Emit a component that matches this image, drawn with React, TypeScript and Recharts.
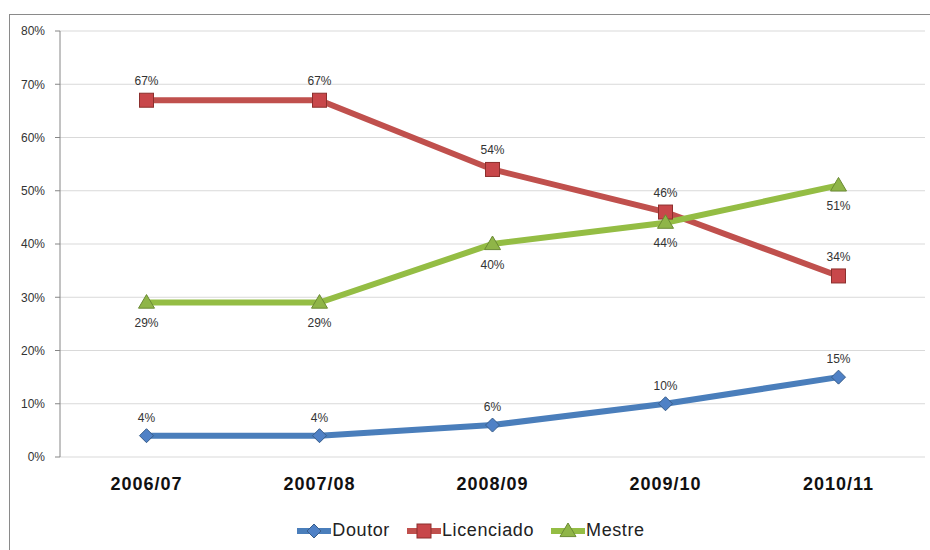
import React from 'react';
import { LineChart, Line, XAxis, YAxis, CartesianGrid, Legend, LabelList } from 'recharts';

const categories = ['2006/07', '2007/08', '2008/09', '2009/10', '2010/11'];
const doutor = [4, 4, 6, 10, 15];
const licenciado = [67, 67, 54, 46, 34];
const mestre = [29, 29, 40, 44, 51];
const yTicks = [0, 10, 20, 30, 40, 50, 60, 70, 80];
const bandTicks = [0, 1, 2, 3, 4, 5];

const BLUE = '#4a7ebb';
const RED = '#c0504d';
const GREEN = '#94bd44';

const data = categories.map((c, i) => ({
  cat: c,
  Doutor: doutor[i],
  Licenciado: licenciado[i],
  Mestre: mestre[i],
}));

const Diamond = (props: any) => {
  const { cx, cy } = props;
  if (cx == null || cy == null) return null;
  const r = 7;
  return (
    <path
      d={`M${cx - r},${cy} L${cx},${cy - r} L${cx + r},${cy} L${cx},${cy + r} Z`}
      fill="#4f81c6"
      stroke="#385d8a"
      strokeWidth={1}
    />
  );
};

const Square = (props: any) => {
  const { cx, cy } = props;
  if (cx == null || cy == null) return null;
  const r = 7;
  return <rect x={cx - r} y={cy - r} width={2 * r} height={2 * r} fill="#c8474a" stroke="#8c2f2d" strokeWidth={1} />;
};

const Triangle = (props: any) => {
  const { cx, cy } = props;
  if (cx == null || cy == null) return null;
  const r = 8;
  return (
    <path
      d={`M${cx},${cy - r} L${cx + r},${cy + r * 0.7} L${cx - r},${cy + r * 0.7} Z`}
      fill="#8fb548"
      stroke="#6b8a34"
      strokeWidth={1}
    />
  );
};

const legendItems = [
  { name: 'Doutor', color: BLUE, Marker: Diamond },
  { name: 'Licenciado', color: RED, Marker: Square },
  { name: 'Mestre', color: GREEN, Marker: Triangle },
];

const LegendContent = () => (
  <div
    style={{
      display: 'flex',
      justifyContent: 'center',
      alignItems: 'center',
      fontFamily: 'Liberation Sans, Arial, sans-serif',
      fontSize: 18,
      color: '#222',
      paddingLeft: 22,
    }}
  >
    {legendItems.map((it) => (
      <div key={it.name} style={{ display: 'flex', alignItems: 'center', marginRight: 16 }}>
        <svg width={36} height={18}>
          <line x1={1} y1={9} x2={35} y2={9} stroke={it.color} strokeWidth={6} />
          <it.Marker cx={18} cy={9} />
        </svg>
        <span style={{ letterSpacing: 0.6 }}>{it.name}</span>
      </div>
    ))}
  </div>
);

const XTick = (props: any) => {
  const { x, y, payload } = props;
  return (
    <text
      x={x}
      y={y}
      dy={25}
      textAnchor="middle"
      fontFamily="Liberation Sans, Arial, sans-serif"
      fontWeight="bold"
      fontSize={18}
      letterSpacing={1}
      fill="#111"
    >
      {payload.value}
    </text>
  );
};

const EmptyTick = () => <g />;

const labelStyle = { fontFamily: 'Liberation Sans, Arial, sans-serif', fontSize: 12, fill: '#333' };
const fmt = (v: any) => `${v}%`;

export default function App() {
  return (
    <div style={{ position: 'absolute', left: 0, top: 0, width: 930, height: 550, background: '#fff' }}>
      <div
        style={{
          position: 'absolute',
          left: 9,
          top: 14,
          width: 930,
          height: 550,
          borderLeft: '1px solid #8a8a8a',
          borderTop: '1px solid #8a8a8a',
        }}
      />
      <div style={{ position: 'absolute', left: 0, top: 0 }}>
        <LineChart width={930} height={550} data={data} margin={{ top: 31, right: 5, bottom: 0, left: 10 }}>
          <CartesianGrid vertical={false} stroke="#d9d9d9" xAxisId="cat" />
          <XAxis
            xAxisId="band"
            type="number"
            domain={[0, 5]}
            ticks={bandTicks}
            height={0}
            tickSize={5}
            tickLine={{ stroke: '#868686' }}
            tick={<EmptyTick />}
            stroke="#868686"
            allowDataOverflow
          />
          <XAxis
            xAxisId="cat"
            dataKey="cat"
            scale="band"
            height={63}
            axisLine={false}
            tickLine={false}
            tick={<XTick />}
            interval={0}
          />
          <YAxis
            domain={[0, 80]}
            ticks={yTicks}
            tickFormatter={fmt}
            width={50}
            tickSize={5}
            tickMargin={10}
            stroke="#868686"
            tick={{ fontFamily: 'Liberation Sans, Arial, sans-serif', fontSize: 12, fill: '#333' }}
          />
          <Legend verticalAlign="bottom" height={30} content={<LegendContent />} />
          <Line
            xAxisId="cat"
            dataKey="Doutor"
            stroke={BLUE}
            strokeWidth={6}
            dot={<Diamond />}
            activeDot={false}
            isAnimationActive={false}
          >
            <LabelList dataKey="Doutor" position="top" offset={14} formatter={fmt} style={labelStyle} />
          </Line>
          <Line
            xAxisId="cat"
            dataKey="Licenciado"
            stroke={RED}
            strokeWidth={6}
            dot={<Square />}
            activeDot={false}
            isAnimationActive={false}
          >
            <LabelList dataKey="Licenciado" position="top" offset={15} formatter={fmt} style={labelStyle} />
          </Line>
          <Line
            xAxisId="cat"
            dataKey="Mestre"
            stroke={GREEN}
            strokeWidth={6}
            dot={<Triangle />}
            activeDot={false}
            isAnimationActive={false}
          >
            <LabelList dataKey="Mestre" position="bottom" offset={16} formatter={fmt} style={labelStyle} />
          </Line>
        </LineChart>
      </div>
    </div>
  );
}
